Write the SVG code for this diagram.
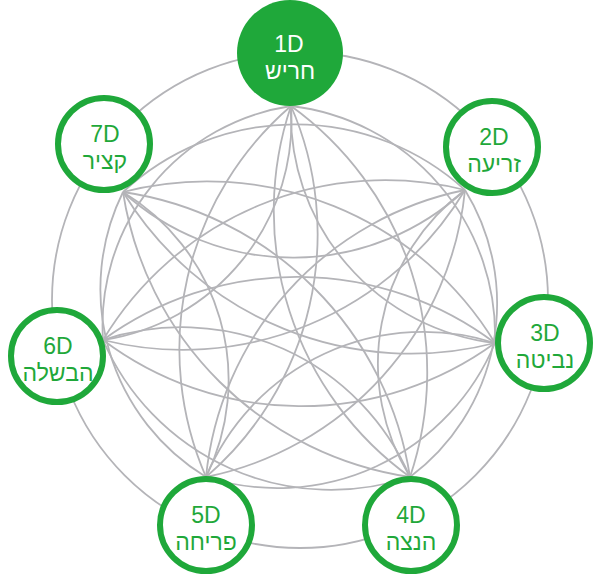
<svg xmlns="http://www.w3.org/2000/svg" width="594" height="580" viewBox="0 0 594 580">
  <defs>
    <style>
      .link { fill: none; stroke: #b4b4b8; stroke-width: 1.8; }
      .ring { fill: #ffffff; stroke: #1fa83a; stroke-width: 6; }
      .ring-on { fill: #1fa83a; stroke: none; }
      .lbl { font-family: "Liberation Sans", "DejaVu Sans", Arial, sans-serif; font-size: 23px; text-anchor: middle; fill: #1fa83a; }
      .lbl-on { fill: #ffffff; }
    </style>
  </defs>
  <rect width="594" height="580" fill="#ffffff"/>

  <!-- connectors: outer ring plus a lens of two arcs for every star pair -->
  <g id="connectors">
    <circle class="link" cx="300" cy="300" r="248"/>
    <!-- skip-one pairs -->
    <path class="link" d="M291 106 A231 231 0 0 0 495 343"/>
    <path class="link" d="M291 106 A231 231 0 0 1 495 343"/>
    <path class="link" d="M465 190 A216.5 216.5 0 0 0 410 477"/>
    <path class="link" d="M465 190 A216.5 216.5 0 0 1 410 477"/>
    <path class="link" d="M495 343 A235.6 235.6 0 0 0 206 477"/>
    <path class="link" d="M495 343 A235.6 235.6 0 0 1 206 477"/>
    <path class="link" d="M410 477 A248.6 248.6 0 0 0 103 340"/>
    <path class="link" d="M410 477 A248.6 248.6 0 0 1 103 340"/>
    <path class="link" d="M206 477 A219.9 219.9 0 0 0 123 192"/>
    <path class="link" d="M206 477 A219.9 219.9 0 0 1 123 192"/>
    <path class="link" d="M103 340 A221.7 221.7 0 0 0 291 106"/>
    <path class="link" d="M103 340 A221.7 221.7 0 0 1 291 106"/>
    <path class="link" d="M123 192 A252.6 252.6 0 0 0 465 190"/>
    <path class="link" d="M123 192 A252.6 252.6 0 0 1 465 190"/>
    <!-- skip-two pairs -->
    <path class="link" d="M291 106 A328 328 0 0 0 410 477"/>
    <path class="link" d="M291 106 A328 328 0 0 1 410 477"/>
    <path class="link" d="M465 190 A325.4 325.4 0 0 0 206 477"/>
    <path class="link" d="M465 190 A325.4 325.4 0 0 1 206 477"/>
    <path class="link" d="M495 343 A329.3 329.3 0 0 0 103 340"/>
    <path class="link" d="M495 343 A329.3 329.3 0 0 1 103 340"/>
    <path class="link" d="M410 477 A340.4 340.4 0 0 0 123 192"/>
    <path class="link" d="M410 477 A340.4 340.4 0 0 1 123 192"/>
    <path class="link" d="M206 477 A320.5 320.5 0 0 0 291 106"/>
    <path class="link" d="M206 477 A320.5 320.5 0 0 1 291 106"/>
    <path class="link" d="M103 340 A329.1 329.1 0 0 0 465 190"/>
    <path class="link" d="M103 340 A329.1 329.1 0 0 1 465 190"/>
    <path class="link" d="M123 192 A337.2 337.2 0 0 0 495 343"/>
    <path class="link" d="M123 192 A337.2 337.2 0 0 1 495 343"/>
  </g>

  <g id="node-1d">
    <circle class="ring-on" cx="290" cy="53" r="53"/>
    <text class="lbl lbl-on" x="289" y="52">1D</text>
    <text class="lbl lbl-on" x="290" y="79">חריש</text>
  </g>
  <g id="node-2d">
    <circle class="ring" cx="492" cy="147" r="46"/>
    <text class="lbl" x="494" y="145">2D</text>
    <text class="lbl" x="494" y="172">זריעה</text>
  </g>
  <g id="node-3d">
    <circle class="ring" cx="544" cy="343" r="46"/>
    <text class="lbl" x="545" y="341">3D</text>
    <text class="lbl" x="545" y="368">נביטה</text>
  </g>
  <g id="node-4d">
    <circle class="ring" cx="411" cy="525" r="46"/>
    <text class="lbl" x="411" y="523">4D</text>
    <text class="lbl" x="411" y="550">הנצה</text>
  </g>
  <g id="node-5d">
    <circle class="ring" cx="206" cy="525" r="46"/>
    <text class="lbl" x="206" y="523">5D</text>
    <text class="lbl" x="206" y="550">פריחה</text>
  </g>
  <g id="node-6d">
    <circle class="ring" cx="57" cy="356" r="46"/>
    <text class="lbl" x="58" y="354">6D</text>
    <text class="lbl" x="58" y="381">הבשלה</text>
  </g>
  <g id="node-7d">
    <circle class="ring" cx="104" cy="144" r="46"/>
    <text class="lbl" x="105" y="142">7D</text>
    <text class="lbl" x="105" y="169">קציר</text>
  </g>
</svg>
